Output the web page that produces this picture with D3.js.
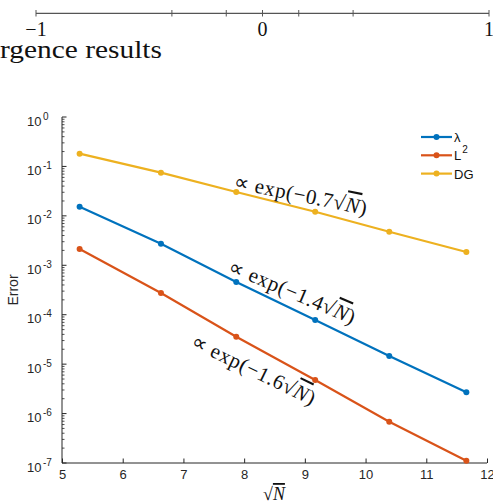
<!DOCTYPE html>
<html>
<head>
<meta charset="utf-8">
<script src="https://cdn.jsdelivr.net/npm/d3@7"></script>
<style>
  body { margin: 0; background: #fff; }
  svg { display: block; }
</style>
</head>
<body>
<div id="chart"></div>
<script>
"use strict";

// convergence data, x is sqrt(N)
const sqrtN = [5.29, 6.63, 7.87, 9.17, 10.39, 11.66];
const errLambda = [0.0153, 0.00273, 4.59e-4, 7.82e-5, 1.46e-5, 2.69e-6];
const errL2 = [2.14e-3, 2.75e-4, 3.59e-5, 4.78e-6, 6.85e-7, 1.11e-7];
const errDG = [0.181, 0.0747, 0.0304, 0.0121, 0.00478, 0.00186];

const seriesNames = ["λ", "L", "DG"];
const seriesColors = ["#0072BD", "#D95319", "#EDB120"];
const xTicks = [5, 6, 7, 8, 9, 10, 11, 12];
const yExponents = [0, -1, -2, -3, -4, -5, -6, -7];
const rateLabels = ["0.7", "1.4", "1.6"];

// number line above the figure (left over from the page)
const nodeTicks = [-1, -0.4, -0.16, 0, 0.16, 0.4, 1];
const nodeLabels = [-1, 0, 1];

const W = 493, H = 503;
const svg = d3.select("#chart").append("svg").attr("width", W).attr("height", H);
const serif = "'Liberation Serif', 'Times New Roman', serif";

// --- number line strip ---
const nx = d3.scaleLinear().domain([-1, 1]).range([36, 489]);
const strip = svg.append("g").attr("stroke", "#555");
strip.append("line").attr("x1", nx(-1)).attr("x2", nx(1)).attr("y1", 13.3).attr("y2", 13.3).attr("stroke-width", 1.3);
strip.selectAll("line.t").data(nodeTicks).enter().append("line").attr("class", "t")
  .attr("x1", d => nx(d)).attr("x2", d => nx(d)).attr("y1", 10).attr("y2", 16.5).attr("stroke-width", 1);
svg.selectAll("text.nl").data(nodeLabels).enter().append("text").attr("class", "nl")
  .attr("x", d => nx(d)).attr("y", 36).attr("text-anchor", "middle")
  .attr("font-family", serif).attr("font-size", 20).attr("fill", "#111")
  .text(d => d < 0 ? "\u2212" + Math.abs(d) : d);
svg.append("text").attr("x", 0).attr("y", 58).attr("font-family", serif)
  .attr("font-size", 26).attr("fill", "#111").attr("textLength", 162).attr("lengthAdjust", "spacingAndGlyphs")
  .text("rgence results");

// --- main plot ---
const x = d3.scaleLinear().domain([5, 12]).range([62, 487]);
const y = d3.scaleLog().domain([1e-7, 1]).range([463, 117]);
const axisColor = "#262626";
const tickFont = "'Liberation Sans', Arial, sans-serif";

// y axis with minor ticks, ticks drawn inward
const minor = [];
for (let e = -7; e < 0; e++) for (let m = 2; m <= 9; m++) minor.push(m * Math.pow(10, e));
const gy = svg.append("g");
gy.append("line").attr("x1", 62).attr("x2", 62).attr("y1", y(1)).attr("y2", y(1e-7)).attr("stroke", axisColor).attr("stroke-width", 1);
gy.selectAll("line.minor").data(minor).enter().append("line").attr("class", "minor")
  .attr("x1", 62).attr("x2", 64.5).attr("y1", d => y(d)).attr("y2", d => y(d)).attr("stroke", axisColor).attr("stroke-width", 0.8);
gy.selectAll("line.major").data(yExponents).enter().append("line").attr("class", "major")
  .attr("x1", 62).attr("x2", 66.5).attr("y1", d => y(Math.pow(10, d))).attr("y2", d => y(Math.pow(10, d))).attr("stroke", axisColor).attr("stroke-width", 1);
const yl = gy.selectAll("text.yl").data(yExponents).enter().append("text").attr("class", "yl")
  .attr("x", 27).attr("y", d => y(Math.pow(10, d)) + 8.5)
  .attr("font-family", tickFont).attr("font-size", 13).attr("fill", axisColor);
yl.append("tspan").text("10");
yl.append("tspan").attr("dx", 1.5).attr("dy", -6).attr("font-size", 10).text(d => d === 0 ? "0" : "-" + Math.abs(d));

// x axis, ticks inward
const gx = svg.append("g").attr("transform", "translate(0,463)")
  .call(d3.axisBottom(x).tickValues(xTicks).tickSize(-4.5).tickPadding(7).tickFormat(d3.format("d")));
gx.select(".domain").attr("stroke", axisColor).attr("d", "M62,0H487");
gx.selectAll(".tick line").attr("stroke", axisColor);
gx.selectAll(".tick text").attr("font-family", tickFont).attr("font-size", 13).attr("fill", axisColor);

// axis labels
svg.append("text").attr("transform", "translate(18,290) rotate(-90)").attr("text-anchor", "middle")
  .attr("font-family", tickFont).attr("font-size", 14).attr("fill", axisColor).text("Error");
const xl = svg.append("text").attr("x", 263).attr("y", 500).attr("font-family", serif)
  .attr("font-size", 18).attr("fill", "#111");
xl.append("tspan").text("\u221A");
xl.append("tspan").attr("font-style", "italic").attr("text-decoration", "overline").text("N");

// series
const allSeries = [errLambda, errL2, errDG];
const line = d3.line().x(d => x(d[0])).y(d => y(d[1]));
allSeries.forEach((vals, i) => {
  const pts = sqrtN.map((s, k) => [s, vals[k]]);
  svg.append("path").datum(pts).attr("d", line).attr("fill", "none")
    .attr("stroke", seriesColors[i]).attr("stroke-width", 2.2);
  svg.append("g").selectAll("circle").data(pts).enter().append("circle")
    .attr("cx", d => x(d[0])).attr("cy", d => y(d[1])).attr("r", 3).attr("fill", seriesColors[i]);
});

// legend
const lg = svg.append("g");
seriesNames.forEach((n, i) => {
  const ly = 137 + i * 18.3;
  lg.append("line").attr("x1", 421).attr("x2", 452).attr("y1", ly).attr("y2", ly).attr("stroke", seriesColors[i]).attr("stroke-width", 2.2);
  lg.append("circle").attr("cx", 436.5).attr("cy", ly).attr("r", 3).attr("fill", seriesColors[i]);
  const t = lg.append("text").attr("x", 454).attr("y", ly + 5).attr("font-family", tickFont).attr("font-size", 13).attr("fill", "#111");
  t.append("tspan").text(n);
  if (i === 1) t.append("tspan").attr("dx", 1).attr("dy", -7).attr("font-size", 10).text("2");
});

// rate annotations: [series index, anchor sqrtN, anchor error, angle]
const annot = [[2, 7.81, 0.0365, 11.5], [0, 7.72, 7.45e-4, 23], [1, 7.1, 2.31e-5, 26]];
annot.forEach((a) => {
  const rate = rateLabels[[2, 0, 1].indexOf(a[0])];
  const t = svg.append("text")
    .attr("transform", "translate(" + x(a[1]) + "," + y(a[2]) + ") rotate(" + a[3] + ")")
    .attr("font-family", serif).attr("font-style", "normal").attr("font-size", 21)
    .attr("letter-spacing", 0.6).attr("fill", "#111");
  t.append("tspan").text("\u221D exp(\u2212" + rate);
  t.append("tspan").text("\u221A");
  t.append("tspan").attr("font-style", "italic").attr("text-decoration", "overline").text("N");
  t.append("tspan").text(")");
});
</script>
</body>
</html>
